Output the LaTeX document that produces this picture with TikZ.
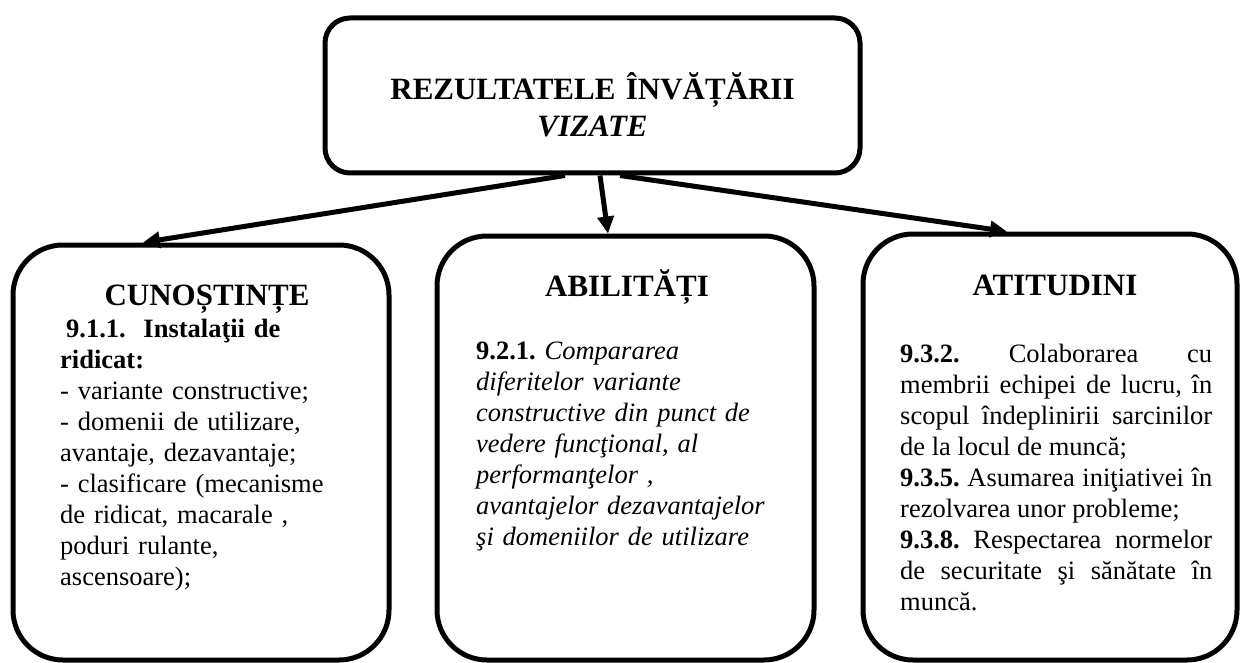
\documentclass[tikz,border=0pt]{standalone}
\usepackage{fontspec}
\setmainfont{Liberation Serif}
\usetikzlibrary{arrows.meta}
\frenchspacing
\begin{document}
\begin{tikzpicture}[x=1pt,y=-1pt,
  box/.style={draw, line width=5pt, rounded corners=50pt, inner sep=0pt},
  topbox/.style={box, rounded corners=25pt},
  arr/.style={line width=5pt, -{Triangle[length=17pt,width=16pt]}},
  head/.style={anchor=base, inner sep=0pt, font=\fontsize{31}{37}\selectfont\bfseries},
  body/.style={anchor=base west, inner sep=0pt, font=\fontsize{26.5}{31}\selectfont\frenchspacing}
]
\useasboundingbox (0,0) rectangle (1241,663);
\node[topbox, minimum width=535pt, minimum height=155pt] (top) at (592.5,95.5) {};
\node[box, minimum width=376pt, minimum height=415pt] (cun) at (201,452.5) {};
\node[box, minimum width=377pt, minimum height=424pt] (abi) at (625.5,448) {};
\node[box, minimum width=374pt, minimum height=426pt] (ati) at (1050,447) {};

\node[head, text width=520pt, align=center] (toptxt) at (592.5,100) {REZULTATELE ÎNVĂȚĂRII\\\textit{VIZATE}};

\node[head] (cunh) at (207,305) {CUNOȘTINȚE};
\node[head] (abih) at (627,296) {ABILITĂȚI};
\node[head] (atih) at (1055,295) {ATITUDINI};

\node[body, text width=325pt, align=left] (cunb) at (60,337) {\hspace*{6pt}\textbf{9.1.1.\ \ Instalaţii de}\\
\textbf{ridicat:}\\
- variante constructive;\\
- domenii de utilizare,\\
avantaje, dezavantaje;\\
- clasificare (mecanisme\\
de ridicat, macarale ,\\
poduri rulante,\\
ascensoare);};

\node[body, text width=325pt, align=left] (abib) at (476,359) {\textbf{9.2.1.} \textit{Compararea}\\
\textit{diferitelor variante}\\
\textit{constructive din punct de}\\
\textit{vedere funcţional, al}\\
\textit{performanţelor ,}\\
\textit{avantajelor dezavantajelor}\\
\textit{şi domeniilor de utilizare}};

\node[body, text width=312pt, align=justify] (atib) at (900,362) {\textbf{9.3.2.} Colaborarea cu\linebreak
membrii echipei de lucru, în\linebreak
scopul îndeplinirii sarcinilor\linebreak
de la locul de muncă;\par
\textbf{9.3.5.} Asumarea iniţiativei în\linebreak
rezolvarea unor probleme;\par
\textbf{9.3.8.} Respectarea normelor\linebreak
de securitate şi sănătate în\linebreak
muncă.};

\draw[arr] ([xshift=-27.5pt]top.south) -- ([xshift=-58pt]cun.north);
\draw[arr] ([xshift=7.5pt]top.south) -- ([xshift=-17.5pt]abi.north);
\draw[arr] ([xshift=27.5pt]top.south) -- ([xshift=-43pt]ati.north);
\end{tikzpicture}
\end{document}
